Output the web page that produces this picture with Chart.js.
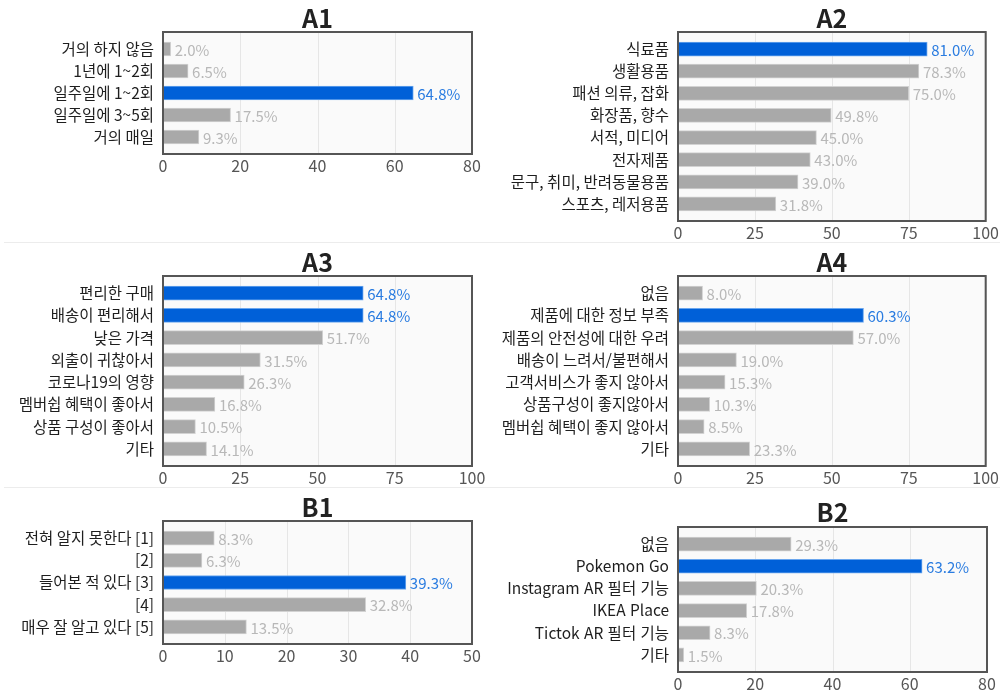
<!DOCTYPE html>
<html lang="ko">
<head>
<meta charset="UTF-8">
<script src="https://cdn.jsdelivr.net/npm/chart.js"></script>
<title>survey</title>
<style>
    body { margin: 0; background: #fff; width: 1007px; height: 691px; position: relative; overflow: hidden; }
    canvas { position: absolute; }
    .sep { position: absolute; left: 4px; width: 996px; height: 1px; background: #ececec; }
</style>
</head>
<body>
<div class="sep" style="top:242px"></div>
<div class="sep" style="top:487px"></div>
<canvas id="A1"></canvas>
<canvas id="A2"></canvas>
<canvas id="A3"></canvas>
<canvas id="A4"></canvas>
<canvas id="B1"></canvas>
<canvas id="B2"></canvas>

<script>
    // ---- data ----
    const a1Labels = ['거의 하지 않음', '1년에 1~2회', '일주일에 1~2회', '일주일에 3~5회', '거의 매일'];
    const a1Values = [2.0, 6.5, 64.8, 17.5, 9.3];

    const a2Labels = ['식료품', '생활용품', '패션 의류, 잡화', '화장품, 향수', '서적, 미디어', '전자제품', '문구, 취미, 반려동물용품', '스포츠, 레저용품'];
    const a2Values = [81.0, 78.3, 75.0, 49.8, 45.0, 43.0, 39.0, 31.8];

    const a3Labels = ['편리한 구매', '배송이 편리해서', '낮은 가격', '외출이 귀찮아서', '코로나19의 영향', '멤버쉽 혜택이 좋아서', '상품 구성이 좋아서', '기타'];
    const a3Values = [64.8, 64.8, 51.7, 31.5, 26.3, 16.8, 10.5, 14.1];

    const a4Labels = ['없음', '제품에 대한 정보 부족', '제품의 안전성에 대한 우려', '배송이 느려서/불편해서', '고객서비스가 좋지 않아서', '상품구성이 좋지않아서', '멤버쉽 혜택이 좋지 않아서', '기타'];
    const a4Values = [8.0, 60.3, 57.0, 19.0, 15.3, 10.3, 8.5, 23.3];

    const b1Labels = ['전혀 알지 못한다 [1]', '[2]', '들어본 적 있다 [3]', '[4]', '매우 잘 알고 있다 [5]'];
    const b1Values = [8.3, 6.3, 39.3, 32.8, 13.5];

    const b2Labels = ['없음', 'Pokemon Go', 'Instagram AR 필터 기능', 'IKEA Place', 'Tictok AR 필터 기능', '기타'];
    const b2Values = [29.3, 63.2, 20.3, 17.8, 8.3, 1.5];

    // x axis ranges
    const axisMax = { A1: 80, A2: 100, A3: 100, A4: 100, B1: 50, B2: 80 };
    const axisStep = { A1: 20, A2: 25, A3: 25, A4: 25, B1: 10, B2: 20 };

    const FONT = "'Noto Sans CJK KR', 'Noto Sans', sans-serif";
    const GRAY = '#a9a9a9';
    const BLUE = '#0060d8';
    const INSET = 6; // space between frame and first/last bar slot

    // canvas box + frame box (page coordinates)
    const panels = [
        { id: 'A1', labels: a1Labels, values: a1Values, cx: 0, cy: 0, cw: 500, ch: 242, left: 163, right: 472, top: 32, bottom: 154 },
        { id: 'A2', labels: a2Labels, values: a2Values, cx: 500, cy: 0, cw: 507, ch: 242, left: 678, right: 987, top: 32, bottom: 221 },
        { id: 'A3', labels: a3Labels, values: a3Values, cx: 0, cy: 243, cw: 500, ch: 244, left: 163, right: 472, top: 276, bottom: 466 },
        { id: 'A4', labels: a4Labels, values: a4Values, cx: 500, cy: 243, cw: 507, ch: 244, left: 678, right: 987, top: 276, bottom: 466 },
        { id: 'B1', labels: b1Labels, values: b1Values, cx: 0, cy: 488, cw: 500, ch: 203, left: 163, right: 472, top: 521, bottom: 644 },
        { id: 'B2', labels: b2Labels, values: b2Values, cx: 500, cy: 488, cw: 507, ch: 203, left: 678, right: 987, top: 527, bottom: 672 }
    ];

    // frame, background, grid, title and value labels
    const framePlugin = {
        id: 'frame',
        beforeDatasetsDraw(chart, args, opts) {
            const a = chart.chartArea;
            const ctx = chart.ctx;
            const top = a.top - INSET, bottom = a.bottom + INSET;
            ctx.save();
            ctx.fillStyle = '#fafafa';
            ctx.fillRect(a.left, top, a.right - a.left, bottom - top);
            const x = chart.scales.x;
            ctx.strokeStyle = '#e6e6e6';
            ctx.lineWidth = 1;
            x.ticks.forEach(t => {
                const px = Math.round(x.getPixelForValue(t.value)) + 0.5;
                ctx.beginPath();
                ctx.moveTo(px, top);
                ctx.lineTo(px, bottom);
                ctx.stroke();
            });
            ctx.restore();
        },
        afterDatasetsDraw(chart, args, opts) {
            const a = chart.chartArea;
            const ctx = chart.ctx;
            const top = a.top - INSET, bottom = a.bottom + INSET;
            ctx.save();
            ctx.strokeStyle = '#555';
            ctx.lineWidth = 2;
            ctx.strokeRect(a.left, top, a.right - a.left, bottom - top);

            // title
            ctx.fillStyle = '#222';
            ctx.font = 'bold 25px ' + FONT;
            ctx.textAlign = 'center';
            ctx.textBaseline = 'middle';
            ctx.fillText(opts.text, (a.left + a.right) / 2, top - opts.gap);

            // value labels
            const meta = chart.getDatasetMeta(0);
            const vals = chart.data.datasets[0].data;
            const maxv = Math.max(...vals);
            ctx.font = '15px ' + FONT;
            ctx.textAlign = 'left';
            meta.data.forEach((bar, i) => {
                ctx.fillStyle = vals[i] === maxv ? '#2a7ce0' : '#b8b8b8';
                ctx.fillText(vals[i].toFixed(1) + '%', bar.x + 4, bar.y + 1);
            });
            ctx.restore();
        }
    };

    panels.forEach(p => {
        const cv = document.getElementById(p.id);
        cv.style.left = p.cx + 'px';
        cv.style.top = p.cy + 'px';
        cv.width = p.cw;
        cv.height = p.ch;
        cv.style.width = p.cw + 'px';
        cv.style.height = p.ch + 'px';

        const maxv = Math.max(...p.values);
        const areaTop = p.top + INSET - p.cy;
        const areaBottom = p.bottom - INSET - p.cy;

        new Chart(cv, {
            type: 'bar',
            data: {
                labels: p.labels,
                datasets: [{
                    data: p.values,
                    backgroundColor: p.values.map(v => v === maxv ? BLUE : GRAY),
                    borderColor: p.values.map(v => v === maxv ? '#6aa6ee' : '#d2d2d2'),
                    borderWidth: 1,
                    borderSkipped: false,
                    barThickness: 14
                }]
            },
            options: {
                indexAxis: 'y',
                responsive: false,
                animation: false,
                devicePixelRatio: 1,
                layout: {
                    padding: { top: areaTop, right: p.cx + p.cw - p.right, bottom: 0, left: 0 }
                },
                plugins: {
                    legend: { display: false },
                    title: { display: false },
                    tooltip: { enabled: false },
                    frame: { text: p.id, gap: p.id === 'B2' ? 15 : 14 }
                },
                scales: {
                    x: {
                        min: 0,
                        max: axisMax[p.id],
                        afterFit: s => { s.height = p.ch - areaBottom; },
                        ticks: {
                            stepSize: axisStep[p.id],
                            color: '#555',
                            font: { family: FONT, size: 16 },
                            padding: 8
                        },
                        grid: { display: false, drawTicks: false },
                        border: { display: false }
                    },
                    y: {
                        afterFit: s => { s.width = p.left - p.cx; },
                        ticks: {
                            color: '#1e1e1e',
                            font: { family: FONT, size: 15.5 },
                            padding: 9,
                            autoSkip: false
                        },
                        grid: { display: false, drawTicks: false },
                        border: { display: false }
                    }
                }
            },
            plugins: [framePlugin]
        });
    });
</script>
</body>
</html>
